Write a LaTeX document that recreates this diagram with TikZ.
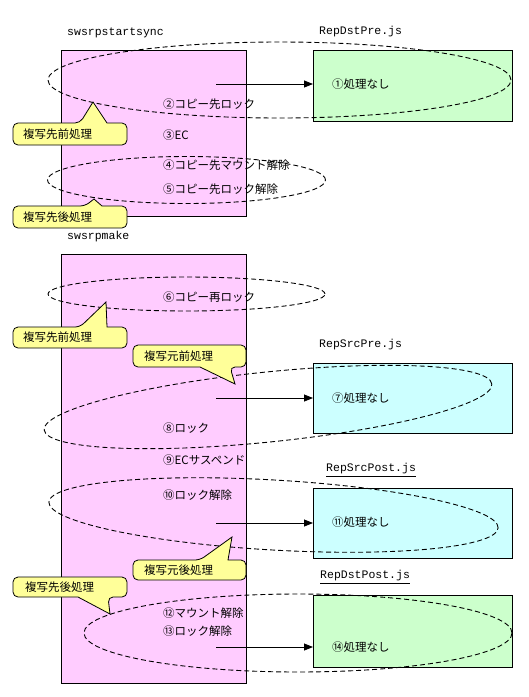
\documentclass[tikz,border=0pt]{standalone}
\usepackage{fontspec}
\newfontfamily\jp{Noto Sans CJK JP}
\newfontfamily\mono{Liberation Mono}
\usetikzlibrary{arrows.meta}
\definecolor{pinkbg}{HTML}{FFCCFF}
\definecolor{greenbg}{HTML}{CCFFCC}
\definecolor{cyanbg}{HTML}{CCFFFF}
\definecolor{yellowbg}{HTML}{FFFF99}
\tikzset{
  cmdbox/.style={draw=black, line width=0.8pt, fill=pinkbg, anchor=north west, inner sep=0pt},
  dstbox/.style={draw=black, line width=0.8pt, fill=greenbg, anchor=north west, inner sep=0pt},
  srcbox/.style={draw=black, line width=0.8pt, fill=cyanbg, anchor=north west, inner sep=0pt},
  txt/.style={anchor=west, inner sep=0pt, font=\jp\fontsize{11.5}{13}\selectfont},
  lbl/.style={anchor=west, inner sep=0pt, font=\mono\fontsize{11.5}{13}\selectfont},
  scope/.style={draw=black, line width=0.9pt, dash pattern=on 5pt off 3pt},
  call/.style={draw=black, line width=0.8pt, fill=yellowbg},
  calltxt/.style={anchor=west, inner sep=0pt, font=\jp\fontsize{11.5}{13}\selectfont},
  flow/.style={draw=black, line width=0.8pt, -{Triangle[length=9pt,width=7pt]}}
}
\begin{document}
\begin{tikzpicture}[x=1pt,y=-1pt]
\useasboundingbox (0,0) rectangle (529,697);
\fill[white] (0,0) rectangle (529,697);

% command boxes
\node[cmdbox, minimum width=185pt, minimum height=166pt] (sync) at (61,50) {};
\node[cmdbox, minimum width=185pt, minimum height=429pt] (make) at (61,254) {};
\node[lbl] (lsync) at (67,33) {swsrpstartsync};
\node[lbl] (lmake) at (67,237) {swsrpmake};

% script boxes
\node[dstbox, minimum width=199pt, minimum height=71pt] (dstpre) at (313,50) {};
\node[srcbox, minimum width=199pt, minimum height=70pt] (srcpre) at (313,363) {};
\node[srcbox, minimum width=199pt, minimum height=70pt] (srcpost) at (313,488) {};
\node[dstbox, minimum width=199pt, minimum height=72pt] (dstpost) at (313,595) {};
\node[lbl] (ldstpre) at (319,32) {RepDstPre.js};
\node[lbl] (lsrcpre) at (319,345) {RepSrcPre.js};
\node[lbl] (lsrcpost) at (326,470) {\underline{RepSrcPost.js}};
\node[lbl] (ldstpost) at (320,577) {\underline{RepDstPost.js}};

% step texts
\node[txt] (s1) at (332,84) {①処理なし};
\node[txt] (s2) at (163,104) {②コピー先ロック};
\node[txt] (s3) at (163,135) {③EC};
\node[txt] (s4) at (163,165) {④コピー先マウント解除};
\node[txt] (s5) at (163,189) {⑤コピー先ロック解除};
\node[txt] (s6) at (163,297) {⑥コピー再ロック};
\node[txt] (s7) at (332,398) {⑦処理なし};
\node[txt] (s8) at (163,428) {⑧ロック};
\node[txt] (s9) at (163,460) {⑨ECサスペンド};
\node[txt] (s10) at (163,495) {⑩ロック解除};
\node[txt] (s11) at (332,522) {⑪処理なし};
\node[txt] (s12) at (163,613) {⑫マウント解除};
\node[txt] (s13) at (163,631) {⑬ロック解除};
\node[txt] (s14) at (332,647) {⑭処理なし};

% scopes (dashed ellipses)
\draw[scope] (279.5,80) ellipse [x radius=231.5pt, y radius=38pt];
\draw[scope] (186.5,180) ellipse [x radius=139pt, y radius=23.5pt];
\draw[scope] (186.5,294) ellipse [x radius=138.5pt, y radius=17pt];
\draw[scope, rotate around={5.85:(268,407)}] (268,407) ellipse [x radius=225pt, y radius=35pt];
\draw[scope, rotate around={-3.3:(273.5,515)}] (273.5,515) ellipse [x radius=225pt, y radius=35pt];
\draw[scope] (298,633) ellipse [x radius=214pt, y radius=39pt];

% calls
\coordinate (c1) at (216,84);
\coordinate (c2) at (216,398);
\coordinate (c3) at (216,523);
\coordinate (c4) at (216,647);
\draw[flow] (c1) -- (c1 -| dstpre.west);
\draw[flow] (c2) -- (c2 -| srcpre.west);
\draw[flow] (c3) -- (c3 -| srcpost.west);
\draw[flow] (c4) -- (c4 -| dstpost.west);

% callouts
\draw[call] (13,134) [rounded corners=5pt] -- (13,123) -- (80,123) [sharp corners] -- (93,102) -- (107,123) [rounded corners=5pt] -- (127,123) -- (127,145) -- (13,145) -- cycle;
\node[calltxt] (k1) at (23,134) {複写先前処理};
\draw[call] (13,217) [rounded corners=5pt] -- (13,206) -- (85,206) [sharp corners] -- (94,199) -- (102,206) [rounded corners=5pt] -- (127,206) -- (127,228) -- (13,228) -- cycle;
\node[calltxt] (k2) at (23,217) {複写先後処理};
\draw[call] (13,337) [rounded corners=5pt] -- (13,327) -- (80,327) [sharp corners] -- (106,302) -- (107,327) [rounded corners=5pt] -- (127,327) -- (127,348) -- (13,348) -- cycle;
\node[calltxt] (k3) at (23,337.5) {複写先前処理};
\draw[call] (133,356) [rounded corners=5pt] -- (133,345) -- (246,345) -- (246,367) -- (230,367) [sharp corners] -- (235,384) -- (200,367) [rounded corners=5pt] -- (133,367) -- cycle;
\node[calltxt] (k4) at (144,356) {複写元前処理};
\draw[call] (133,570) [rounded corners=5pt] -- (133,560) -- (200,560) [sharp corners] -- (232,537) -- (228,560) [rounded corners=5pt] -- (246,560) -- (246,580) -- (133,580) -- cycle;
\node[calltxt] (k5) at (144,570) {複写元後処理};
\draw[call] (13,587) [rounded corners=5pt] -- (13,577) -- (127,577) -- (127,597) -- (108,597) [sharp corners] -- (110,614) -- (78,597) [rounded corners=5pt] -- (13,597) -- cycle;
\node[calltxt] (k6) at (25,587) {複写先後処理};
\end{tikzpicture}
\end{document}
